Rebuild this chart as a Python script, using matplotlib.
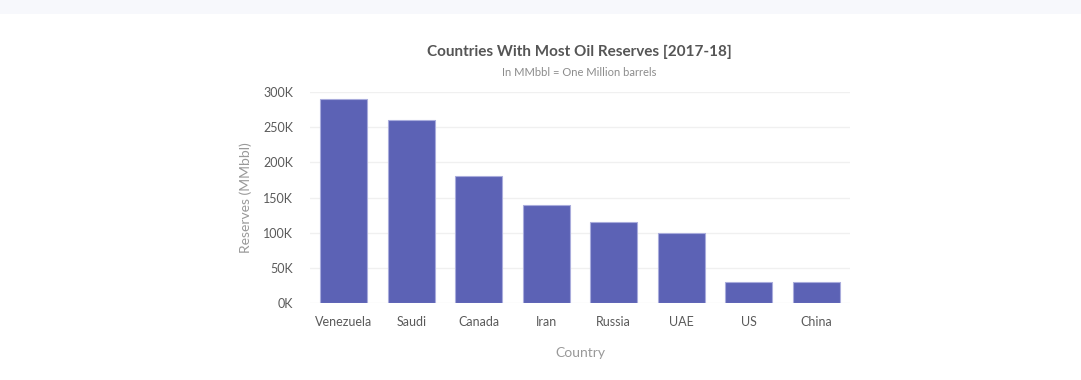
import matplotlib.pyplot as plt
from matplotlib.ticker import FuncFormatter

# data
countries = ["Venezuela", "Saudi", "Canada", "Iran", "Russia", "UAE", "US", "China"]
reserves = [290000, 260000, 180000, 140000, 115000, 100000, 30000, 30000]
y_ticks = [0, 50000, 100000, 150000, 200000, 250000, 300000]

plt.rcParams['font.family'] = ['Lato', 'DejaVu Sans']

fig = plt.figure(figsize=(10.81, 3.8), dpi=100)
fig.patch.set_facecolor("white")

# light strip on top
band = fig.add_axes([0, 1 - 14 / 380, 1, 14 / 380])
band.set_facecolor("#f7f8fc")
band.set_xticks([])
band.set_yticks([])
for s in band.spines.values():
    s.set_visible(False)

ax = fig.add_axes([310 / 1081, 1 - 303 / 380, 540 / 1081, 211 / 380])
ax.bar(range(len(countries)), reserves, width=0.7, color="#5c62b5",
       edgecolor="#a9acdc", linewidth=0.8, zorder=3)

ax.set_xlim(-0.5, len(countries) - 0.5)
ax.set_ylim(0, 300000)
ax.set_yticks(y_ticks)
ax.yaxis.set_major_formatter(FuncFormatter(lambda v, p: f"{int(v / 1000)}K"))
ax.set_xticks(range(len(countries)))
ax.set_xticklabels(countries)
ax.tick_params(axis="both", length=0, labelsize=9, labelcolor="#5a5a5a")
ax.tick_params(axis="x", pad=9)
ax.tick_params(axis="y", pad=12)
ax.grid(axis="y", color="#f0f0f0", linewidth=1, zorder=0)
for s in ax.spines.values():
    s.set_visible(False)

ax.set_ylabel("Reserves (MMbbl)", fontsize=10, color="#999999", labelpad=8)
ax.set_xlabel("Country", fontsize=10, color="#999999", labelpad=14)

fig.text(579 / 1081, 1 - 52 / 380, "Countries With Most Oil Reserves [2017-18]",
         ha="center", va="center", fontsize=11, fontweight="bold", color="#555555")
fig.text(579 / 1081, 1 - 73 / 380, "In MMbbl = One Million barrels",
         ha="center", va="center", fontsize=8, color="#8c8c8c")

fig.savefig("out.png", dpi=100)
